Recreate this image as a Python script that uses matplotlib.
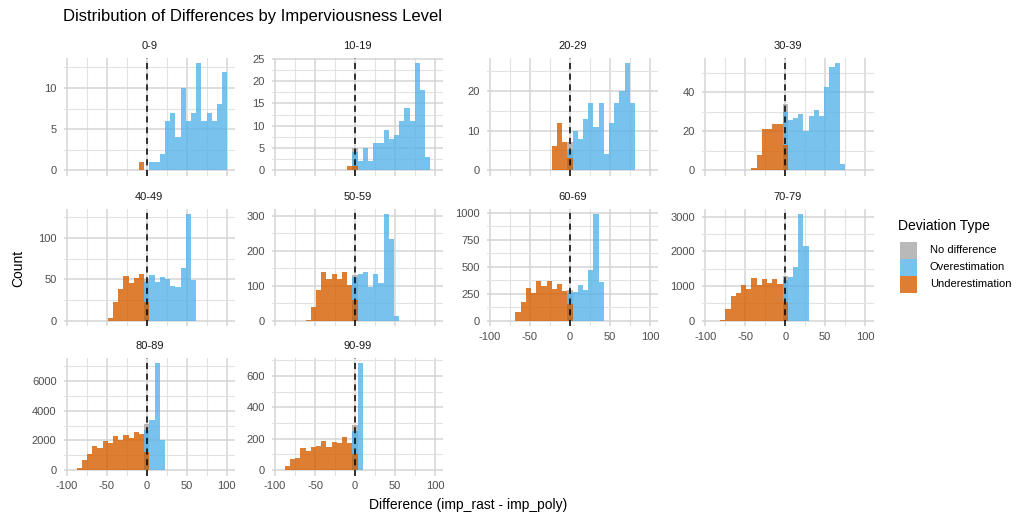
import numpy as np
import matplotlib
matplotlib.use("Agg")
import matplotlib.pyplot as plt
from matplotlib.patches import Rectangle
from matplotlib.ticker import FixedLocator

plt.rcParams["font.family"] = ["Liberation Sans", "DejaVu Sans"]

# Histogram bins are centred on multiples of the bin width
BIN_WIDTH = 6.5

levels = ["0-9", "10-19", "20-29", "30-39", "40-49",
          "50-59", "60-69", "70-79", "80-89", "90-99"]

# index of the first bin (bin k is centred on k * BIN_WIDTH) and counts per bin
under_first = [-1, -1, -3, -6, -7, -9, -10, -12, -13, -13]
under_counts = [
    [1],
    [1, 1],
    [6, 12, 7, 3],
    [1, 8, 21, 21, 24, 24, 13],
    [3, 23, 38, 54, 45, 52, 56, 23],
    [3, 40, 88, 140, 118, 132, 118, 139, 103, 58],
    [80, 170, 305, 260, 370, 320, 365, 290, 340, 275, 150],
    [30, 330, 720, 800, 1040, 900, 1220, 1030, 1210, 1080, 1190, 1070, 530],
    [130, 700, 1100, 1600, 1500, 1950, 1800, 2300, 2050, 2400, 2200, 2600, 2450, 1250],
    [25, 70, 80, 140, 120, 150, 155, 185, 145, 180, 170, 210, 170, 100],
]

over_first = [1, 0, 0, 0, 0, 0, 0, 0, 0, 0]
over_counts = [
    [1, 1, 2, 6, 7, 4, 10, 6, 7, 13, 6, 7, 6, 8, 12],
    [4, 2, 5, 2, 6, 6, 9, 7, 8, 11, 14, 11, 24, 18, 3],
    [5, 10, 8, 13, 17, 11, 17, 4, 12, 17, 20, 27, 17],
    [30, 26, 27, 29, 20, 28, 31, 28, 43, 53, 55, 3],
    [47, 55, 47, 53, 50, 42, 41, 64, 129, 49],
    [125, 132, 138, 95, 132, 107, 305, 233, 12],
    [260, 265, 330, 280, 465, 990, 355],
    [1180, 1250, 1550, 3080, 2160],
    [2700, 3400, 7200, 2050],
    [250, 680],
]

# counts in the zero bin with no difference
nodiff_counts = [0, 5, 7, 34, 50, 130, 285, 1300, 3100, 290]

y_breaks = [
    [0, 5, 10],
    [0, 5, 10, 15, 20, 25],
    [0, 10, 20],
    [0, 20, 40],
    [0, 50, 100],
    [0, 100, 200, 300],
    [0, 250, 500, 750, 1000],
    [0, 1000, 2000, 3000],
    [0, 2000, 4000, 6000],
    [0, 200, 400, 600],
]
x_breaks = [-100, -50, 0, 50, 100]
x_minor = [-75, -25, 25, 75]

dev_types = ["No difference", "Overestimation", "Underestimation"]
dev_colors = ["#A8A8A8", "#56B4E9", "#D55E00"]
ALPHA = 0.8


def bin_edges(first, n):
    k = first + np.arange(n + 1)
    return (k - 0.5) * BIN_WIDTH


W, H = 1027, 519
fig = plt.figure(figsize=(W / 100, H / 100), dpi=100)
fig.patch.set_facecolor("white")

col_left = [63.5, 271.8, 486.8, 702.0]
row_top = [58.0, 208.5, 358.0]
pw, ph = 171.6, 117.5

for i, lev in enumerate(levels):
    r, c = divmod(i, 4)
    ax = fig.add_axes([col_left[c] / W, 1 - (row_top[r] + ph) / H, pw / W, ph / H])
    ax.set_axisbelow(True)
    for s in ax.spines.values():
        s.set_visible(False)

    # grey, blue, orange drawn in that order, semi-transparent
    if nodiff_counts[i] > 0:
        ax.stairs([nodiff_counts[i]], bin_edges(0, 1), fill=True,
                  color=dev_colors[0], alpha=ALPHA, linewidth=0)
    oc = np.array(over_counts[i])
    ax.stairs(oc, bin_edges(over_first[i], len(oc)), fill=True,
              color=dev_colors[1], alpha=ALPHA, linewidth=0)
    uc = np.array(under_counts[i])
    ax.stairs(uc, bin_edges(under_first[i], len(uc)), fill=True,
              color=dev_colors[2], alpha=ALPHA, linewidth=0)

    ax.axvline(0, color="black", linestyle=(0, (4, 3)), linewidth=1.1, zorder=5)

    ymax = max(oc.max(), uc.max(), nodiff_counts[i])
    ax.set_ylim(-0.05 * ymax, 1.05 * ymax)
    ax.set_xlim(-104.0, 110.5)

    yb = y_breaks[i]
    step = yb[1] - yb[0]
    y_minor = [v + step / 2 for v in yb + [yb[-1] + step]]
    y_minor = [v for v in y_minor if v < 1.05 * ymax]
    ax.yaxis.set_major_locator(FixedLocator(yb))
    ax.yaxis.set_minor_locator(FixedLocator(y_minor))
    ax.set_yticklabels([str(v) for v in yb])
    ax.xaxis.set_major_locator(FixedLocator(x_breaks))
    ax.xaxis.set_minor_locator(FixedLocator(x_minor))
    if i >= 6:
        ax.set_xticklabels([str(v) for v in x_breaks])
    else:
        ax.set_xticklabels([])

    ax.tick_params(which="both", length=0, labelsize=8, labelcolor="#4D4D4D")
    ax.tick_params(axis="y", pad=5)
    ax.tick_params(axis="x", pad=4)
    ax.grid(which="major", color="#D4D4D4", linewidth=1.1)
    ax.grid(which="minor", color="#E2E2E2", linewidth=0.8)

    ax.annotate(lev, xy=(0.5, 1), xycoords="axes fraction", xytext=(0, 8.5),
                textcoords="offset points", ha="center", va="center",
                fontsize=8, color="#1A1A1A")

fig.text(63 / W, 1 - 17 / H, "Distribution of Differences by Imperviousness Level",
         ha="left", va="center", fontsize=12, color="black")
fig.text(18 / W, 1 - 268 / H, "Count", rotation=90, ha="center", va="center",
         fontsize=10, color="black")
fig.text(468.5 / W, 1 - 505 / H, "Difference (imp_rast - imp_poly)",
         ha="center", va="center", fontsize=10, color="black")

# legend
fig.text(898 / W, 1 - 226 / H, "Deviation Type", ha="left", va="center",
         fontsize=10, color="black")
key_w, key_h = 17.0, 17.0
for j, (lab, col) in enumerate(zip(dev_types, dev_colors)):
    top = 241.5 + j * key_h
    fig.patches.append(Rectangle((900 / W, 1 - (top + key_h) / H), key_w / W, (key_h - 0.5) / H,
                                 transform=fig.transFigure, facecolor=col, alpha=ALPHA,
                                 linewidth=0))
    fig.text(930 / W, 1 - (top + key_h / 2) / H, lab, ha="left", va="center",
             fontsize=8, color="black")

fig.savefig("out.png", dpi=100)
